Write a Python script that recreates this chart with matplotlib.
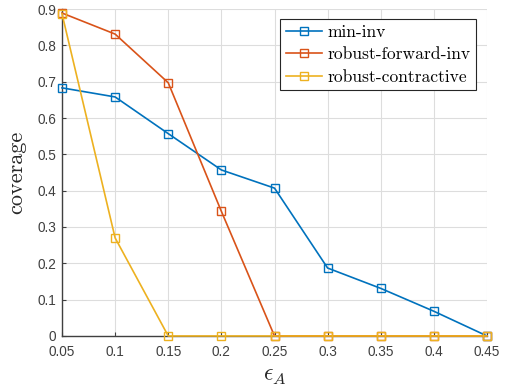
import matplotlib
matplotlib.use("Agg")
import matplotlib.pyplot as plt

eps = [0.05, 0.10, 0.15, 0.20, 0.25, 0.30, 0.35, 0.40, 0.45]
min_inv = [0.683, 0.658, 0.557, 0.457, 0.407, 0.187, 0.131, 0.068, 0.0]
robust_forward_inv = [0.889, 0.831, 0.697, 0.343, 0.0, 0.0, 0.0, 0.0, 0.0]
robust_contractive = [0.887, 0.270, 0.0, 0.0, 0.0, 0.0, 0.0, 0.0, 0.0]
series_names = ["min-inv", "robust-forward-inv", "robust-contractive"]
colors = ["#0072BD", "#D95319", "#EDB120"]
xticks = [0.05, 0.1, 0.15, 0.2, 0.25, 0.3, 0.35, 0.4, 0.45]
xticklabels = ["0.05", "0.1", "0.15", "0.2", "0.25", "0.3", "0.35", "0.4", "0.45"]
yticks = [0, 0.1, 0.2, 0.3, 0.4, 0.5, 0.6, 0.7, 0.8, 0.9]
yticklabels = ["0", "0.1", "0.2", "0.3", "0.4", "0.5", "0.6", "0.7", "0.8", "0.9"]

plt.rcParams['mathtext.fontset'] = 'cm'

fig = plt.figure(figsize=(5.06, 3.89), dpi=100)
ax = fig.add_axes([0.1225, 0.1363, 0.84, 0.8405])

for ys, name, c in zip([min_inv, robust_forward_inv, robust_contractive], series_names, colors):
    ax.plot(eps, ys, color=c, lw=1.2, marker='s', markersize=6, markerfacecolor='none',
            markeredgecolor=c, markeredgewidth=1.0, label=name, clip_on=False, zorder=3)

ax.set_xlim(0.05, 0.45)
ax.set_ylim(0, 0.9)
ax.set_xticks(xticks)
ax.set_xticklabels(xticklabels, family='Liberation Sans', fontsize=9.8, color='#404040')
ax.set_yticks(yticks)
ax.set_yticklabels(yticklabels, family='Liberation Sans', fontsize=9.8, color='#404040')
ax.tick_params(direction='in', length=3, color='#404040')
ax.tick_params(axis='x', pad=6.5)
ax.tick_params(axis='y', pad=4)
ax.grid(True, color='#dddddd', lw=0.8)
ax.set_axisbelow(True)
for s in ['top', 'right']:
    ax.spines[s].set_visible(False)
for s in ['left', 'bottom']:
    ax.spines[s].set_color('#404040')
    ax.spines[s].set_linewidth(1.0)

ax.set_ylabel('coverage', family='cmr10', fontsize=16, color='#262626', labelpad=8)
ax.set_xlabel(r'$\epsilon_A$', fontsize=17, color='#262626', labelpad=3)

leg = ax.legend(loc='upper right', bbox_to_anchor=(0.974, 0.969), prop={'family': 'cmr10', 'size': 12.6},
                frameon=True, fancybox=False, edgecolor='#262626', framealpha=1,
                handlelength=2.1, handletextpad=0.3, borderpad=0.3, labelspacing=0.42,
                borderaxespad=0.0)
leg.get_frame().set_linewidth(0.8)

fig.savefig('out.png', dpi=100)
